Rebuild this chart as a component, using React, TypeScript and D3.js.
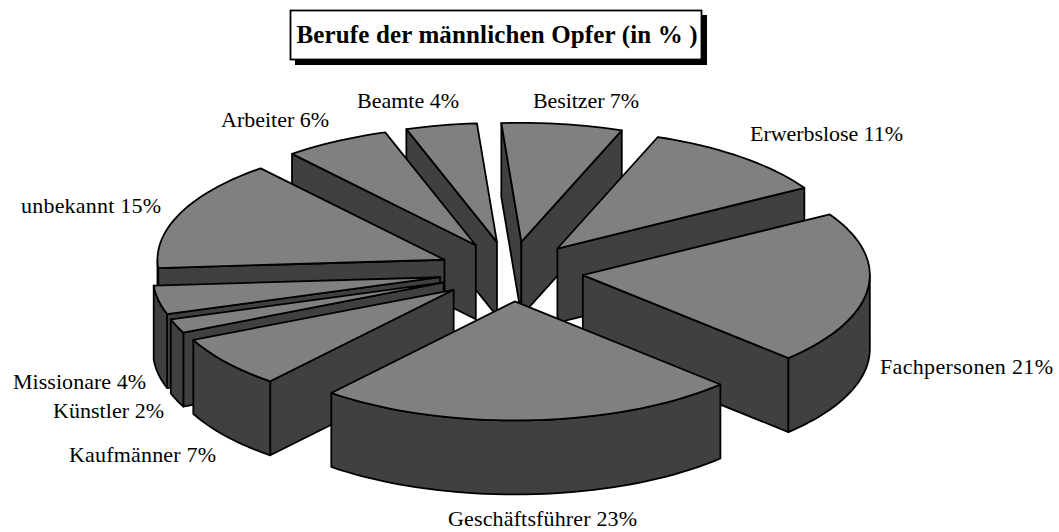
import React from "react";
import * as d3 from "d3";

const titleText = "Berufe der männlichen Opfer (in % )";
const categories = ["Besitzer", "Erwerbslose", "Fachpersonen", "Geschäftsführer", "Kaufmänner", "Künstler", "Missionare", "unbekannt", "Arbeiter", "Beamte"];
// printed percentages
const percentLabels = [7, 11, 21, 23, 7, 2, 4, 15, 6, 4];
// slice sizes
const shares = [6.8, 10.8, 20.8, 23.75, 7.05, 1.9, 3.9, 15.05, 5.95, 4.0];

const W = 1059, H = 532;
const FONT = "'Liberation Serif', 'Times New Roman', serif";
const TOP = "#808080", SIDE = "#404040";
const labelX = [533, 750, 880, 448, 69, 53, 13, 21, 221, 357];
const labelY = [108, 141, 374, 526, 462, 418, 389, 213, 127, 108];
const labelW = [106, 153, 173, 189, 147, 111, 133, 140, 108, 102];

const cx = 511, cy = 271.5, rx = 287, ry = 119, depth = 74, explode = 0.252;
const rot = (-4.0 * Math.PI) / 180;
const sx = d3.scaleLinear().domain([-1, 1]).range([cx - rx, cx + rx]);
const sy = d3.scaleLinear().domain([-1, 1]).range([cy - ry, cy + ry]);
const line = d3.line<[number, number]>();

const arcs = d3.pie<number>().sort(null).startAngle(rot).endAngle(rot + 2 * Math.PI)(shares);

type P = [number, number];
const samples = (a0: number, a1: number) => {
  const n = Math.max(2, Math.ceil(((a1 - a0) * 180) / Math.PI / 2));
  return d3.range(n + 1).map((i) => a0 + ((a1 - a0) * i) / n);
};

const slices = arcs.map((a, i) => {
  const mid = (a.startAngle + a.endAngle) / 2;
  const ox = Math.sin(mid) * explode, oy = -Math.cos(mid) * explode;
  const pt = (t: number, r = 1, dz = 0): P => [sx(ox + r * Math.sin(t)), sy(oy - r * Math.cos(t)) + dz];
  const apex = pt(0, 0);
  const rim = samples(a.startAngle, a.endAngle).map((t) => pt(t));
  const top = line([apex, ...rim])! + "Z";
  const face = (t: number) => line([apex, pt(t), pt(t, 1, depth), pt(0, 0, depth)])! + "Z";
  const faces: string[] = [];
  if (Math.sin(a.startAngle) < 0) faces.push(face(a.startAngle));
  if (Math.sin(a.endAngle) > 0) faces.push(face(a.endAngle));
  const w0 = Math.max(a.startAngle, Math.PI / 2), w1 = Math.min(a.endAngle, (3 * Math.PI) / 2);
  let wall: string | null = null;
  if (w1 > w0) {
    const ts = samples(w0, w1);
    wall = line([...ts.map((t) => pt(t)), ...ts.slice().reverse().map((t) => pt(t, 1, depth))])! + "Z";
  }
  return { i, mid, top, faces, wall };
});
const order = slices.slice().sort((a, b) => Math.cos(b.mid) - Math.cos(a.mid));

export default function App() {
  return (
    <svg width={W} height={H} style={{ position: "absolute", left: 0, top: 0, display: "block", background: "#fff" }}>
      <rect x={295} y={15} width={412} height={50} fill="#000" />
      <rect x={290.5} y={10.5} width={411} height={49} fill="#fff" stroke="#000" strokeWidth={1.8} />
      <text x={296.5} y={43} fontFamily={FONT} fontWeight="bold" fontSize={25} fill="#000" textLength={401} lengthAdjust="spacing">{titleText}</text>
      {order.map((s) => (
        <g key={s.i} stroke="#000" strokeWidth={1.8} strokeLinejoin="round">
          {s.faces.map((d, k) => <path key={k} d={d} fill={SIDE} />)}
          {s.wall && <path d={s.wall} fill={SIDE} />}
          <path d={s.top} fill={TOP} />
        </g>
      ))}
      {categories.map((c, i) => (
        <text key={c} x={labelX[i]} y={labelY[i]} fontFamily={FONT} fontSize={22} fill="#000" textLength={labelW[i]} lengthAdjust="spacing">{`${c} ${percentLabels[i]}%`}</text>
      ))}
    </svg>
  );
}
